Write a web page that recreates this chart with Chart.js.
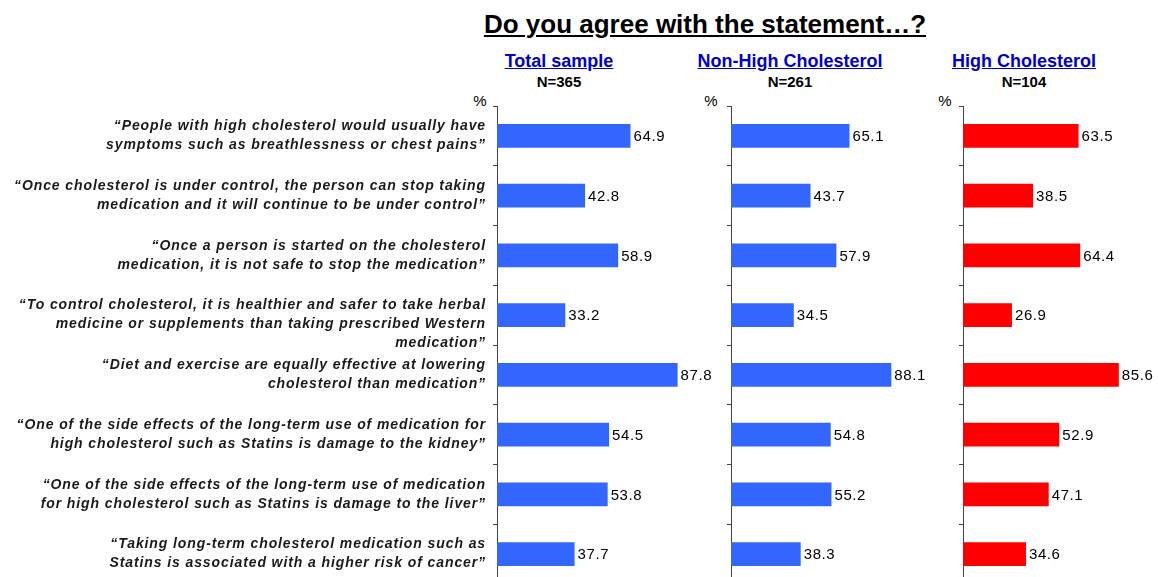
<!DOCTYPE html>
<html>
<head>
<meta charset="utf-8">
<script src="https://cdn.jsdelivr.net/npm/chart.js@4"></script>
<style>
  body { margin: 0; width: 1158px; height: 577px; overflow: hidden; background: #fff; position: relative; font-family: "Liberation Sans", Arial, sans-serif; }
  .txt { position: absolute; text-align: center; white-space: nowrap; line-height: 1; }
  .title { left: 405px; width: 600px; top: 11px; font-size: 26px; font-weight: bold; text-decoration: underline; color: #000; }
  .head { width: 300px; top: 52px; font-size: 18px; font-weight: bold; text-decoration: underline; color: #0000CC; }
  .n { width: 300px; top: 74px; font-size: 15px; font-weight: bold; color: #000; }
  .pct { width: 30px; top: 93px; font-size: 15px; color: #000; }
  canvas { position: absolute; top: 0; }
</style>
</head>
<body>
<div class="txt title">Do you agree with the statement…?</div>
<div class="txt head" style="left:409px">Total sample</div>
<div class="txt n" style="left:409px">N=365</div>
<div class="txt head" style="left:640px">Non-High Cholesterol</div>
<div class="txt n" style="left:640px">N=261</div>
<div class="txt head" style="left:874px">High Cholesterol</div>
<div class="txt n" style="left:874px">N=104</div>
<div class="txt pct" style="left:465px">%</div>
<div class="txt pct" style="left:696px">%</div>
<div class="txt pct" style="left:930px">%</div>

<canvas id="c1" style="left:0px"></canvas>
<canvas id="c2" style="left:680px"></canvas>
<canvas id="c3" style="left:912px"></canvas>

<script>
// statements (y axis labels)
var statements = [
    ['\u201CPeople with high cholesterol would usually have', 'symptoms such as breathlessness or chest pains\u201D'],
    ['\u201COnce cholesterol is under control, the person can stop taking', 'medication and it will continue to be under control\u201D'],
    ['\u201COnce a person is started on the cholesterol', 'medication, it is not safe to stop the medication\u201D'],
    ['', '\u201CTo control cholesterol, it is healthier and safer to take herbal', 'medicine or supplements than taking prescribed Western', 'medication\u201D'],
    ['\u201CDiet and exercise are equally effective at lowering', 'cholesterol than medication\u201D'],
    ['\u201COne of the side effects of the long-term use of medication for', 'high cholesterol such as Statins is damage to the kidney\u201D'],
    ['\u201COne of the side effects of the long-term use of medication', 'for high cholesterol such as Statins is damage to the liver\u201D'],
    ['\u201CTaking long-term cholesterol medication such as', 'Statins is associated with a higher risk of cancer\u201D']
];

// % agree per group
var totalSample = [64.9, 42.8, 58.9, 33.2, 87.8, 54.5, 53.8, 37.7];
var nonHighChol = [65.1, 43.7, 57.9, 34.5, 88.1, 54.8, 55.2, 38.3];
var highChol    = [63.5, 38.5, 64.4, 26.9, 85.6, 52.9, 47.1, 34.6];

var FONT = '"Liberation Sans", Arial, sans-serif';

// value labels at the end of each bar
var valueLabels = {
    id: 'valueLabels',
    afterDatasetsDraw: function(chart) {
        var ctx = chart.ctx;
        ctx.save();
        ctx.letterSpacing = '0.6px';
        ctx.font = '15px ' + FONT;
        ctx.fillStyle = '#000';
        ctx.textAlign = 'left';
        ctx.textBaseline = 'middle';
        chart.getDatasetMeta(0).data.forEach(function(bar, i) {
            var v = chart.data.datasets[0].data[i];
            ctx.fillText(v.toFixed(1), bar.x + 3, bar.y + 1);
        });
        ctx.restore();
    }
};

var spacing = {
    id: 'spacing',
    beforeDraw: function(chart) {
        chart.ctx.letterSpacing = '0.9px';
    }
};

function makeChart(id, cw, data, color, axisWidth, padRight, showLabels) {
    var canvas = document.getElementById(id);
    canvas.style.width = cw + 'px';
    canvas.style.height = '584px';
    canvas.width = cw;
    canvas.height = 584;
    return new Chart(canvas.getContext('2d'), {
        type: 'bar',
        data: {
            labels: statements,
            datasets: [{
                data: data,
                backgroundColor: color,
                borderWidth: 0,
                barPercentage: 0.4,
                categoryPercentage: 1.0
            }]
        },
        options: {
            indexAxis: 'y',
            responsive: false,
            animation: false,
            layout: { padding: { top: 106, bottom: 0, left: 0, right: padRight } },
            plugins: {
                legend: { display: false },
                tooltip: { enabled: false },
                title: { display: false }
            },
            scales: {
                x: { display: false, min: 0, max: 100 },
                y: {
                    afterFit: function(scale) {
                        scale.width = axisWidth;
                        scale.paddingTop = 0;
                        scale.paddingBottom = 0;
                    },
                    border: { display: true, color: '#444', width: 1 },
                    grid: { drawOnChartArea: false, drawTicks: true, tickLength: 4, color: '#444', offset: true },
                    ticks: {
                        display: showLabels,
                        autoSkip: false,
                        padding: 7,
                        color: '#1a1a1a',
                        font: { family: FONT, size: 14, weight: 'bold', style: 'italic', lineHeight: '19px' }
                    }
                }
            }
        },
        plugins: [spacing, valueLabels]
    });
}

// panel 1: axis at x=497, 100% = 205.7px
makeChart('c1', 760, totalSample, '#3366FF', 497, 760 - 702.7, true);
// panel 2: axis at x=731, 100% = 182px
makeChart('c2', 260, nonHighChol, '#3366FF', 51, 260 - 233, false);
// panel 3: axis at x=963, 100% = 182px
makeChart('c3', 246, highChol, '#FF0000', 51, 246 - 233, false);
</script>
</body>
</html>
